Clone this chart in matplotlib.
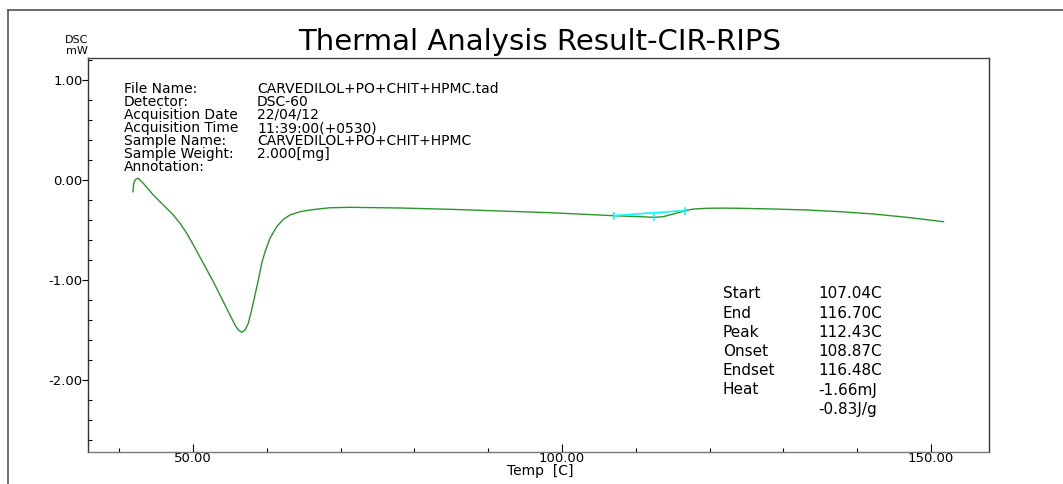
import numpy as np
import matplotlib
matplotlib.use("Agg")
import matplotlib.pyplot as plt
from matplotlib.ticker import MultipleLocator, FormatStrFormatter
from matplotlib.lines import Line2D

plt.rcParams['font.family'] = ['DejaVu Sans']

# DSC trace (temp in C, heat flow in mW)
temp = [41.87, 41.96, 42.23, 42.55, 43.27, 44.62, 45.98, 47.33, 48.24, 49.15,
        50.05, 51.40, 52.75, 54.11, 55.01, 55.69, 56.14, 56.60, 57.05, 57.49,
        57.95, 58.40, 58.85, 59.31, 59.76, 60.43, 61.34, 62.24, 63.14, 64.50,
        65.85, 67.21, 68.5, 71.3, 78.0, 84.8, 91.6, 98.4, 107.0, 110.6, 112.4,
        113.7, 115.1, 116.7, 117.8, 119.6, 121.9, 124.1, 128.6, 133.2, 137.7,
        142.2, 146.7, 151.7]
dsc = [-0.117, -0.033, 0.007, 0.017, -0.033, -0.150, -0.250, -0.350, -0.433,
       -0.533, -0.650, -0.833, -1.017, -1.217, -1.350, -1.450, -1.500, -1.523,
       -1.500, -1.433, -1.300, -1.150, -1.000, -0.833, -0.717, -0.583, -0.467,
       -0.393, -0.350, -0.317, -0.300, -0.288, -0.278, -0.273, -0.280, -0.293,
       -0.310, -0.327, -0.357, -0.367, -0.373, -0.367, -0.340, -0.307, -0.290,
       -0.283, -0.281, -0.283, -0.290, -0.300, -0.317, -0.340, -0.373, -0.417]

# peak analysis
t_start, t_end, t_peak = 107.04, 116.70, 112.43
v_start, v_end, v_peak = -0.357, -0.307, -0.373

info_labels = ["File Name:", "Detector:", "Acquisition Date", "Acquisition Time",
               "Sample Name:", "Sample Weight:", "Annotation:"]
info_values = ["CARVEDILOL+PO+CHIT+HPMC.tad", "DSC-60", "22/04/12",
               "11:39:00(+0530)", "CARVEDILOL+PO+CHIT+HPMC", "2.000[mg]", ""]

res_labels = ["Start", "End", "Peak", "Onset", "Endset", "Heat", ""]
res_values = ["107.04C", "116.70C", "112.43C", "108.87C", "116.48C",
              "-1.66mJ", "-0.83J/g"]

W, H = 1063, 484
fig = plt.figure(figsize=(W / 100, H / 100), dpi=100)
ax = fig.add_axes([88 / W, 1 - 452 / H, (989 - 88) / W, (452 - 58) / H])

ax.plot(temp, dsc, color='#2a962a', lw=1.0)

# baseline and markers
ax.plot([t_start, t_end], [v_start, v_end], color='cyan', lw=1.0)
ax.plot([t_start, t_end], [v_start + 0.004, v_end + 0.006], color='cyan', lw=0.7, alpha=0.7)
for t, v in [(t_start, v_start), (t_peak, v_peak), (t_end, v_end)]:
    ax.plot([t, t], [v - 0.03, v + 0.03], color='cyan', lw=1.2)

ax.set_xlim(35.77, 157.86)
ax.set_ylim(-2.72, 1.22)

ax.xaxis.set_major_locator(MultipleLocator(50))
ax.xaxis.set_minor_locator(MultipleLocator(10))
ax.yaxis.set_major_locator(MultipleLocator(1))
ax.yaxis.set_minor_locator(MultipleLocator(0.2))
ax.xaxis.set_major_formatter(FormatStrFormatter('%.2f'))
ax.yaxis.set_major_formatter(FormatStrFormatter('%.2f'))

ax.tick_params(axis='x', which='major', direction='in', length=6, width=0.8,
               labelsize=9.5, pad=0)
ax.tick_params(axis='x', which='minor', direction='in', length=3, width=0.8)
ax.tick_params(axis='y', which='major', direction='out', length=4, width=0.8,
               labelsize=9.5, pad=0)
ax.tick_params(axis='y', which='minor', direction='in', length=3, width=0.8)

for side, col in [('left', '#333333'), ('top', '#444444'),
                  ('right', '#333333'), ('bottom', '#777777')]:
    ax.spines[side].set_color(col)
    ax.spines[side].set_linewidth(1.0)

# outer frame
fig.add_artist(Line2D([8 / W, 8 / W], [0, 1 - 10 / H], color='#555555', lw=1.2,
                      transform=fig.transFigure))
fig.add_artist(Line2D([8 / W, 1], [1 - 10 / H, 1 - 10 / H], color='#555555', lw=1.2,
                      transform=fig.transFigure))

fig.text(540 / W, 1 - 42 / H, "Thermal Analysis Result-CIR-RIPS", fontsize=21,
         ha='center', va='center')
fig.text(77 / W, 1 - 40 / H, "DSC", fontsize=8, ha='center', va='center')
fig.text(77 / W, 1 - 51 / H, "mW", fontsize=8, ha='center', va='center')
fig.text(540 / W, 1 - 471 / H, "Temp  [C]", fontsize=10, ha='center', va='center')

for i, (lab, val) in enumerate(zip(info_labels, info_values)):
    y = 1 - (89 + 13 * i) / H
    fig.text(124 / W, y, lab, fontsize=10, va='center')
    fig.text(257 / W, y, val, fontsize=10, va='center')

for i, (lab, val) in enumerate(zip(res_labels, res_values)):
    y = 1 - (294 + 19.2 * i) / H
    fig.text(723 / W, y, lab, fontsize=11, va='center')
    fig.text(818 / W, y, val, fontsize=11, va='center')

fig.savefig("out.png", dpi=100)
